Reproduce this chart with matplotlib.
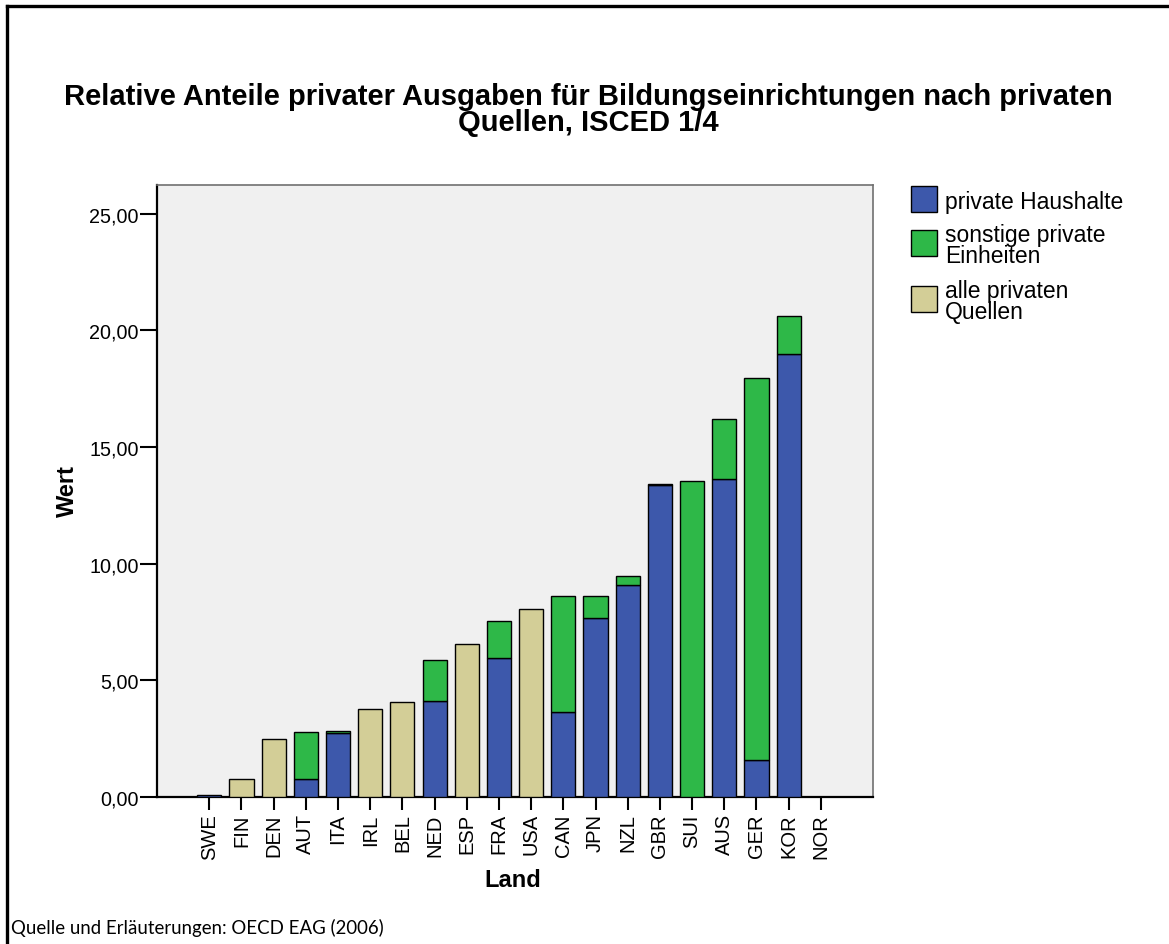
import numpy as np
import matplotlib.pyplot as plt
from matplotlib.patches import Rectangle
from matplotlib.lines import Line2D

plt.rcParams['font.family'] = ['Liberation Sans', 'DejaVu Sans']

countries = ['SWE', 'FIN', 'DEN', 'AUT', 'ITA', 'IRL', 'BEL', 'NED', 'ESP', 'FRA',
             'USA', 'CAN', 'JPN', 'NZL', 'GBR', 'SUI', 'AUS', 'GER', 'KOR', 'NOR']
# 0 = no value for that source
haushalte = [0.07, 0, 0, 0.76, 2.73, 0, 0, 4.12, 0, 5.95,
             0, 3.62, 7.67, 9.08, 13.37, 0, 13.63, 1.57, 18.99, 0]
sonstige = [0, 0, 0, 2.00, 0.08, 0, 0, 1.76, 0, 1.60,
            0, 5.00, 0.95, 0.38, 0.04, 13.56, 2.57, 16.39, 1.64, 0]
alle = [0, 0.76, 2.48, 0, 0, 3.76, 4.05, 0, 6.55, 0,
        8.05, 0, 0, 0, 0, 0, 0, 0, 0, 0]

series = ['private Haushalte', 'sonstige private\nEinheiten', 'alle privaten\nQuellen']
colors = ['#3d58ab', '#2eb848', '#d3ce97']
yticks = [0, 5, 10, 15, 20, 25]

W, H = 1169, 945
fig = plt.figure(figsize=(W / 100, H / 100), dpi=100)

def fx(px):
    return px / W

def fy(py):
    return 1 - py / H

ax = fig.add_axes([fx(157.3), fy(797.7), fx(872.7) - fx(157.3), fy(186) - fy(797.7)])
ax.set_facecolor('#f0f0f0')

x = np.arange(len(countries))
hh = np.array(haushalte)
so = np.array(sonstige)
al = np.array(alle)
bw = 0.75
kw = dict(width=bw, edgecolor='black', linewidth=1.0, zorder=3)

m = hh > 0
ax.bar(x[m], hh[m], color=colors[0], **kw)
m = so > 0
ax.bar(x[m], so[m], bottom=hh[m], color=colors[1], **kw)
m = al > 0
ax.bar(x[m], al[m], color=colors[2], **kw)

ax.set_xlim(-1.615, 20.61)
ax.set_ylim(0, 26.24)
ax.set_yticks(yticks)
ax.set_yticklabels([('%.2f' % v).replace('.', ',') for v in yticks])
ax.set_xticks(x)
ax.set_xticklabels(countries, rotation=90)

ax.tick_params(axis='y', length=12, width=1.5, pad=1.5, labelsize=14.2, direction='out')
ax.tick_params(axis='x', length=9, width=1.5, pad=3, labelsize=14.5, direction='out')
for s in ['left', 'bottom']:
    ax.spines[s].set_linewidth(1.6)
    ax.spines[s].set_color('black')
for s in ['top', 'right']:
    ax.spines[s].set_linewidth(1.2)
    ax.spines[s].set_color('#707070')

fig.text(fx(67), fy(491), 'Wert', rotation=90, ha='center', va='center',
         fontsize=17, fontweight='bold')
fig.text(fx(513), fy(881), 'Land', ha='center', va='center',
         fontsize=17, fontweight='bold')

fig.text(0.503, fy(110), 'Relative Anteile privater Ausgaben für Bildungseinrichtungen nach privaten\nQuellen, ISCED 1/4',
         ha='center', va='center', fontsize=21.0, fontweight='bold', linespacing=0.88)

# legend
leg_y = [200, 244, 300]
for c, lab, cy in zip(colors, series, leg_y):
    fig.patches.append(Rectangle((fx(911), fy(cy + 13)), fx(26), 26 / H, transform=fig.transFigure,
                                 facecolor=c, edgecolor='black', linewidth=1.0))
    fig.text(fx(945), fy(cy + 2), lab, ha='left', va='center', fontsize=16.5, linespacing=0.9)

fig.text(fx(11), fy(928), 'Quelle und Erläuterungen: OECD EAG (2006)', ha='left', va='center',
         fontsize=13.4, family=['Lato', 'DejaVu Sans'])

# outer frame (left and top only)
fig.add_artist(Line2D([fx(7), fx(7)], [0, fy(7)], transform=fig.transFigure, color='black', linewidth=2.4))
fig.add_artist(Line2D([fx(7), 1], [fy(7), fy(7)], transform=fig.transFigure, color='black', linewidth=2.4))

fig.savefig('out.png', dpi=100)
